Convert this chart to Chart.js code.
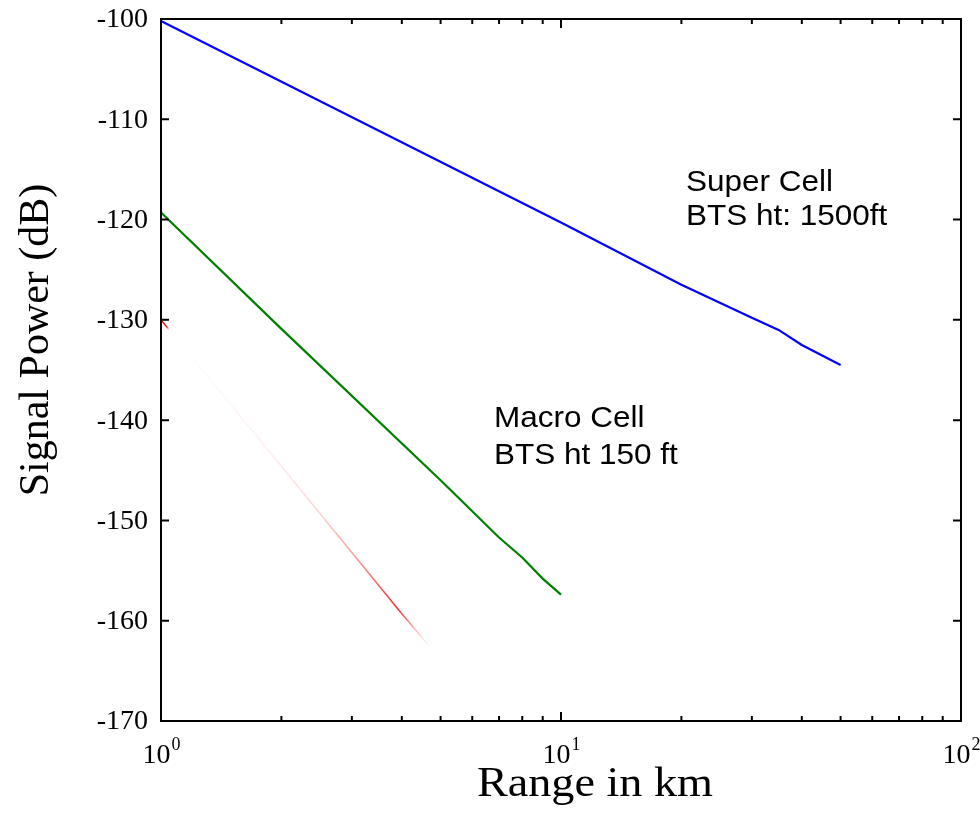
<!DOCTYPE html>
<html>
<head>
<meta charset="utf-8">
<script src="https://cdn.jsdelivr.net/npm/chart.js@4/dist/chart.umd.min.js"></script>
<style>
  html, body { margin: 0; padding: 0; background: #fff; }
  #wrap { width: 980px; height: 815px; }
</style>
</head>
<body>
<div id="wrap"><canvas id="graph"></canvas></div>
<script>
// Super Cell, BTS ht 1500 ft (blue)
const superX = [1, 10, 20, 30, 35, 40, 50];
const superY = [-100.2, -120.3, -126.5, -129.8, -131.0, -132.5, -134.5];
// Macro Cell, BTS ht 150 ft (green)
const macroX = [1, 2, 5, 7, 8, 9, 10];
const macroY = [-119.3, -130.9, -146.0, -151.7, -153.7, -155.8, -157.4];
// third curve, almost invisible (red)
const microX = [1, 2, 3, 4, 4.7];
const microY = [-130, -144.6, -153.2, -159.3, -162.6];

// ticks
const yTicks = [-170, -160, -150, -140, -130, -120, -110, -100];
const xMajor = [1, 10, 100];
const xExp = ["0", "1", "2"];
const xMinor = [2, 3, 4, 5, 6, 7, 8, 9, 20, 30, 40, 50, 60, 70, 80, 90];

const SERIF = "'Liberation Serif', 'Times New Roman', serif";
const SANS = "'Liberation Sans', Arial, sans-serif";

function points(xs, ys) {
  return xs.map((x, i) => ({ x: x, y: ys[i] }));
}

// text a little wider than normal, like the picture
function txt(ctx, s, x, y, align, sx) {
  ctx.save();
  ctx.translate(x, y);
  ctx.scale(sx || 1, 1);
  ctx.textAlign = align;
  ctx.fillText(s, 0, 0);
  ctx.restore();
}

// red line fades in and out along its length
function redStroke(context) {
  const chart = context.chart;
  if (!chart.chartArea) return "red";
  const xs = chart.scales.x, ys = chart.scales.y;
  const n = microX.length - 1;
  const g = chart.ctx.createLinearGradient(
    xs.getPixelForValue(microX[0]), ys.getPixelForValue(microY[0]),
    xs.getPixelForValue(microX[n]), ys.getPixelForValue(microY[n]));
  g.addColorStop(0, "rgba(255,0,0,1)");
  g.addColorStop(0.02, "rgba(255,0,0,1)");
  g.addColorStop(0.03, "rgba(255,0,0,0)");
  g.addColorStop(0.1, "rgba(255,0,0,0.01)");
  g.addColorStop(0.4, "rgba(255,0,0,0.06)");
  g.addColorStop(0.6, "rgba(255,0,0,0.18)");
  g.addColorStop(0.75, "rgba(255,0,0,0.45)");
  g.addColorStop(0.88, "rgba(255,0,0,0.85)");
  g.addColorStop(0.95, "rgba(255,0,0,0.25)");
  g.addColorStop(1, "rgba(255,0,0,0)");
  return g;
}

// frame, inward ticks and all text
const framePlugin = {
  id: "frame",
  afterDraw(chart) {
    const ctx = chart.ctx;
    const a = chart.chartArea;
    const xs = chart.scales.x, ys = chart.scales.y;
    ctx.save();
    ctx.strokeStyle = "#000";
    ctx.lineWidth = 2;
    ctx.strokeRect(a.left, a.top, a.right - a.left, a.bottom - a.top);

    ctx.beginPath();
    for (const v of yTicks) {
      const py = ys.getPixelForValue(v);
      ctx.moveTo(a.left, py); ctx.lineTo(a.left + 8, py);
      ctx.moveTo(a.right, py); ctx.lineTo(a.right - 8, py);
    }
    for (const v of xMinor) {
      const px = xs.getPixelForValue(v);
      ctx.moveTo(px, a.bottom); ctx.lineTo(px, a.bottom - 5);
      ctx.moveTo(px, a.top); ctx.lineTo(px, a.top + 5);
    }
    for (const v of xMajor) {
      const px = xs.getPixelForValue(v);
      ctx.moveTo(px, a.bottom); ctx.lineTo(px, a.bottom - 9);
      ctx.moveTo(px, a.top); ctx.lineTo(px, a.top + 9);
    }
    ctx.stroke();

    ctx.fillStyle = "#000";
    ctx.textBaseline = "middle";
    ctx.font = "28px " + SERIF;
    for (const v of yTicks) {
      txt(ctx, String(v), a.left - 13, ys.getPixelForValue(v) + 1, "right");
    }

    ctx.textBaseline = "alphabetic";
    xMajor.forEach((v, i) => {
      const px = xs.getPixelForValue(v);
      ctx.font = "28px " + SERIF;
      const w1 = ctx.measureText("10").width;
      ctx.font = "18px " + SERIF;
      const w2 = ctx.measureText(xExp[i]).width;
      const left = px - (w1 + w2) / 2;
      ctx.font = "28px " + SERIF;
      txt(ctx, "10", left, a.bottom + 42, "left");
      ctx.font = "18px " + SERIF;
      txt(ctx, xExp[i], left + w1 + 1, a.bottom + 29, "left");
    });

    ctx.font = "42px " + SERIF;
    txt(ctx, "Range in km", 595, a.bottom + 75, "center", 1.1);
    ctx.save();
    ctx.translate(48, 340);
    ctx.rotate(-Math.PI / 2);
    ctx.textAlign = "center";
    ctx.fillText("Signal Power (dB)", 0, 0);
    ctx.restore();

    ctx.font = "30px " + SANS;
    txt(ctx, "Super Cell", 686, 191, "left", 1.05);
    txt(ctx, "BTS ht: 1500ft", 686, 225, "left", 1.05);
    txt(ctx, "Macro Cell", 494, 427, "left", 1.05);
    txt(ctx, "BTS ht 150 ft", 494, 464, "left", 1.05);
    ctx.restore();
  }
};

new Chart(document.querySelector("#graph"), {
  type: "line",
  data: {
    datasets: [
      { label: "Super Cell", data: points(superX, superY), borderColor: "rgb(0,0,255)", borderWidth: 2.2 },
      { label: "Macro Cell", data: points(macroX, macroY), borderColor: "rgb(0,128,0)", borderWidth: 2.2 },
      { label: "Micro Cell", data: points(microX, microY), borderColor: redStroke, borderWidth: 1.5 }
    ]
  },
  options: {
    responsive: true,
    maintainAspectRatio: false,
    animation: false,
    parsing: false,
    elements: { point: { radius: 0 }, line: { tension: 0 } },
    layout: { padding: { left: 0, right: 19, top: 19, bottom: 0 } },
    plugins: { legend: { display: false }, tooltip: { enabled: false } },
    scales: {
      x: {
        type: "logarithmic",
        min: 1,
        max: 100,
        grid: { display: false },
        border: { display: false },
        ticks: { display: false },
        afterFit(scale) { scale.height = 94; scale.paddingLeft = 0; scale.paddingRight = 0; }
      },
      y: {
        min: -170,
        max: -100,
        grid: { display: false },
        border: { display: false },
        ticks: { display: false },
        afterFit(scale) { scale.width = 161; scale.paddingTop = 0; scale.paddingBottom = 0; }
      }
    }
  },
  plugins: [framePlugin]
});
</script>
</body>
</html>
